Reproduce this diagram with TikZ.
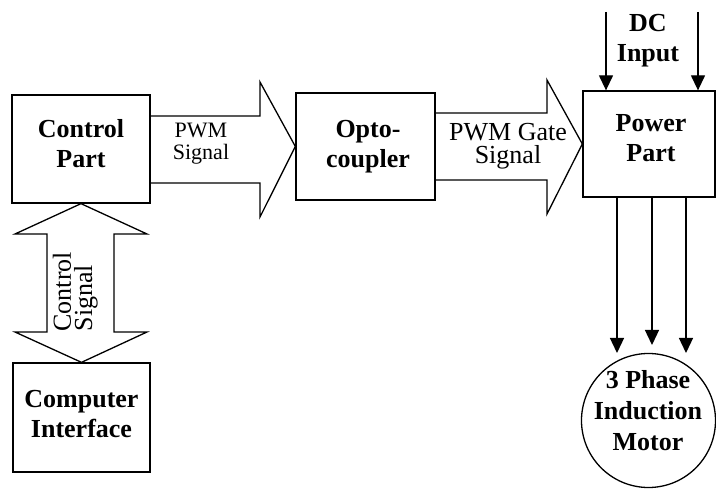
\documentclass[tikz,border=0pt]{standalone}
\usepackage{fontspec}
\setmainfont{Liberation Serif}
\usetikzlibrary{arrows.meta}
\begin{document}
\begin{tikzpicture}[x=1pt,y=-1pt,line width=1.3pt,
  box/.style={draw,line width=1.3pt,inner sep=0pt},
  blabel/.style={font=\bfseries\fontsize{26}{30}\selectfont,align=center,inner sep=0pt,anchor=base},
  rlabel/.style={font=\fontsize{22}{22}\selectfont,align=center,inner sep=0pt,anchor=base},
  fat/.style={draw,line width=1.3pt,line join=miter},
  thinarrow/.style={-{Triangle[width=14pt,length=15pt]},line width=1.3pt}]
\useasboundingbox (0,0) rectangle (716,489);
% boxes
\node[box,minimum width=138pt,minimum height=108pt] (cp) at (81,149) {};
\node[box,minimum width=139pt,minimum height=107pt] (oc) at (365.5,146.5) {};
\node[box,minimum width=132pt,minimum height=106pt] (pp) at (649,144) {};
\node[box,minimum width=137pt,minimum height=109pt] (ci) at (81.5,417.5) {};
\node[box,circle,minimum size=134pt] (mo) at (648.5,420.5) {};
% labels (anchor base = baseline of the last line)
\node[blabel] (lcp) at (81,168) {Control\\Part};
\node[blabel] (loc) at (368,168) {Opto-\\coupler};
\node[blabel] (lpp) at (651,162) {Power\\Part};
\node[blabel] (ldc) at (648,62) {DC\\Input};
\node[blabel] (lci) at (81.5,438) {Computer\\Interface};
\node[blabel,font=\bfseries\fontsize{26}{31}\selectfont] (lmo) at (648,450) {3 Phase\\Induction\\Motor};
\node[rlabel] (lpwm) at (201,160) {PWM\\Signal};
\node[rlabel,font=\fontsize{26}{23}\selectfont] (lgate) at (508,164) {PWM Gate\\Signal};
\node[rlabel,font=\fontsize{26}{21}\selectfont,align=left,rotate=90,anchor=base west] (lcs) at (92,332) {Control\\Signal};
% fat arrows
\draw[fat] (cp.east |- 0,116) -- (260,116) -- (260,82) -- (oc.west) -- (260,217) -- (260,183) -- (cp.east |- 0,183);
\draw[fat] (oc.east |- 0,113) -- (547,113) -- (547,80) -- (pp.west) -- (547,214) -- (547,180) -- (oc.east |- 0,180);
\draw[fat] (cp.south) -- (147,234) -- (114,234) -- (114,332) -- (147,332) -- (ci.north) -- (15,332) -- (47,332) -- (47,234) -- (15,234) -- cycle;
% thin arrows
\coordinate (d1) at (606,12);
\coordinate (d2) at (698,12);
\draw[thinarrow] (d1) -- (d1 |- pp.north);
\draw[thinarrow] (d2) -- (d2 |- pp.north);
\coordinate (m1) at (617,353);
\coordinate (m2) at (652,345);
\coordinate (m3) at (686,353);
\draw[thinarrow] (m1 |- pp.south) -- (m1);
\draw[thinarrow] (m2 |- pp.south) -- (m2);
\draw[thinarrow] (m3 |- pp.south) -- (m3);
\end{tikzpicture}
\end{document}
